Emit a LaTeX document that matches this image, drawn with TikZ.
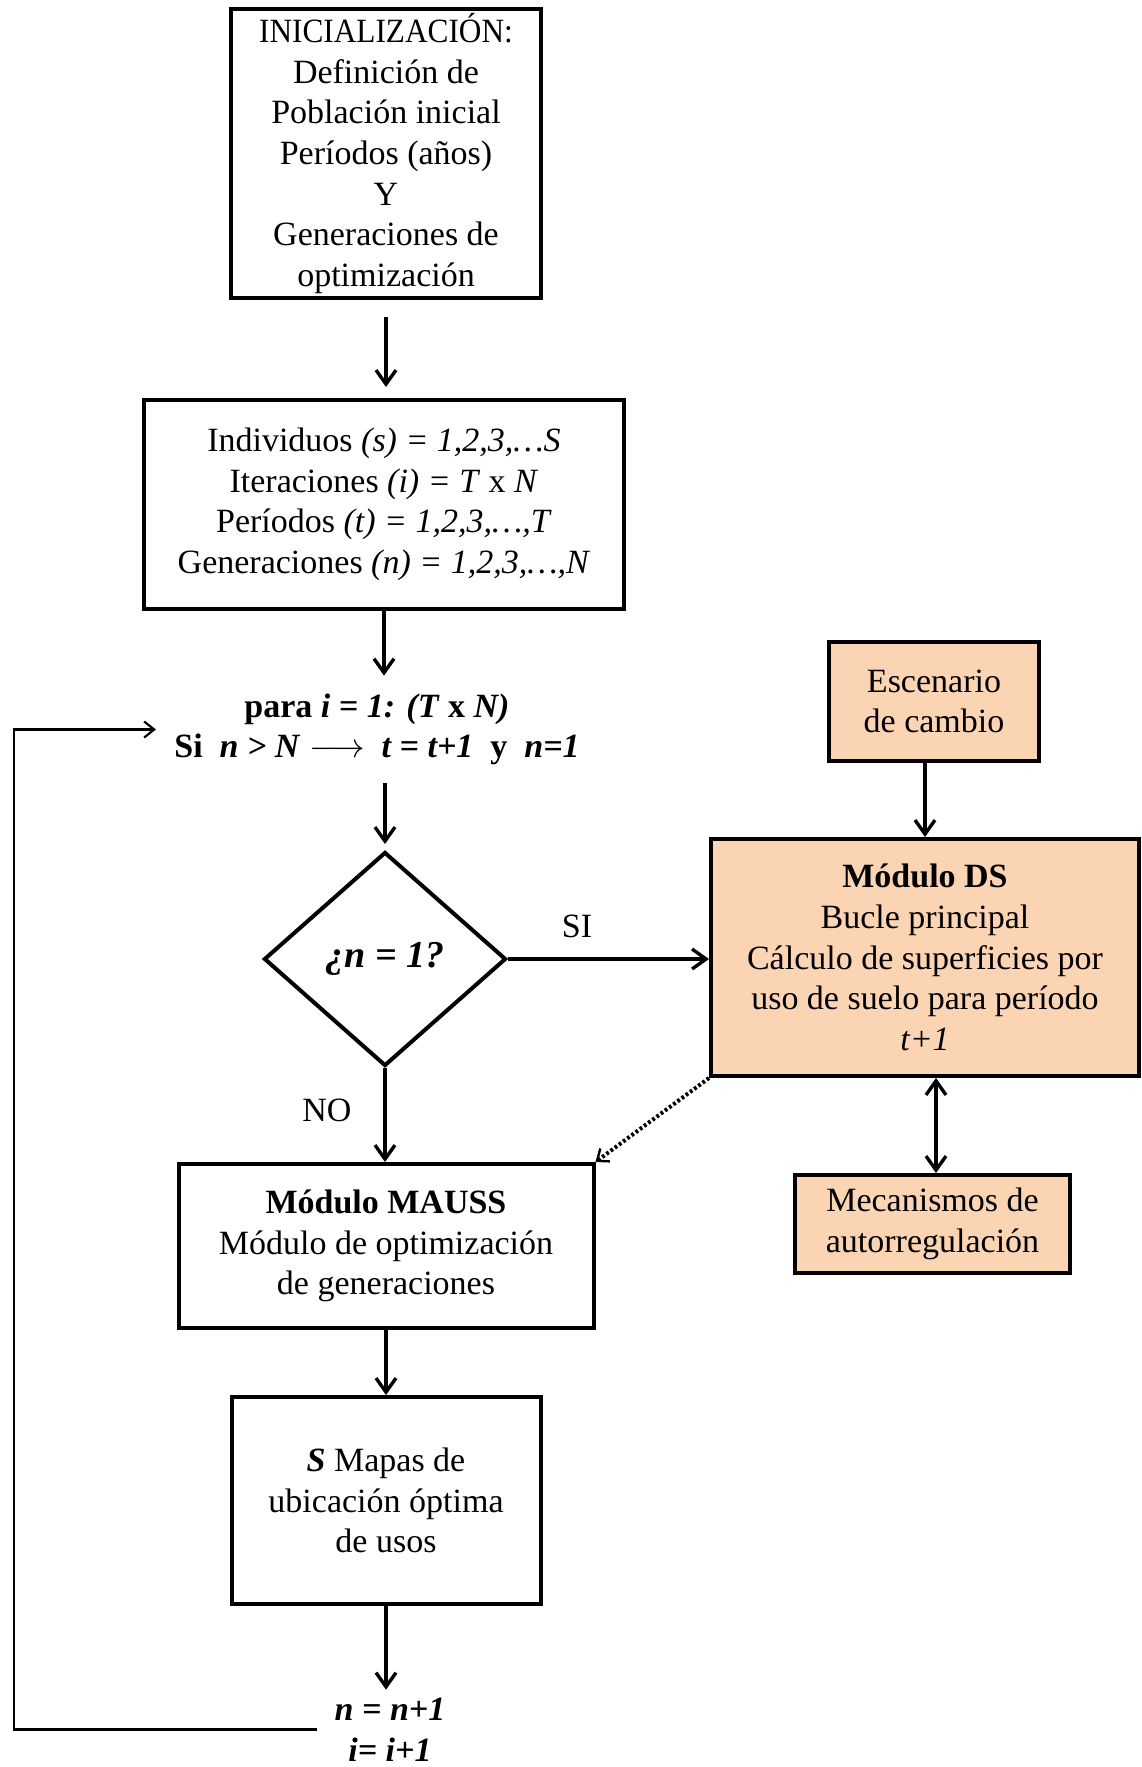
\documentclass[tikz,border=0pt]{standalone}
\usepackage{fontspec}
\setmainfont{Liberation Serif}
\usetikzlibrary{shapes.geometric,arrows.meta}
\definecolor{peach}{HTML}{FBD4B4}
\begin{document}
\begin{tikzpicture}[x=0.5pt,y=-0.5pt,
  every node/.style={font=\fontsize{17}{20.3}\selectfont, align=center},
  box/.style={draw, line width=2pt, inner sep=0pt},
  tint/.style={box, fill=peach},
  flow/.style={line width=1.8pt, -{Straight Barb[length=7pt,width=10pt,line width=1.7pt]}},
  back/.style={line width=1.1pt, -{Straight Barb[length=5pt,width=8pt,line width=1.1pt]}},
  both/.style={line width=1.8pt, {Straight Barb[length=7pt,width=10pt,line width=1.7pt]}-{Straight Barb[length=7pt,width=10pt,line width=1.7pt]}},
  hint/.style={line width=2pt, dash pattern=on 1.4pt off 1.2pt, -{Straight Barb[length=5pt,width=8pt,line width=1.2pt]}}
]
\fill[white] (0,0) rectangle (1141,1767);
\useasboundingbox (0,0) rectangle (1141,1767);

% main column
\node[box, minimum width=155pt, minimum height=144.5pt] (init) at (386,153.5)
  {\scalebox{0.92}[1]{INICIALIZACIÓN:}\\Definición de\\Población inicial\\Períodos (años)\\Y\\Generaciones de\\optimización};
\node[box, minimum width=240pt, minimum height=104.5pt] (vars) at (384,504.5)
  {Individuos \textit{(s) = 1,2,3,…S}\\Iteraciones \textit{(i) = T} x \textit{N}\\Períodos \textit{(t) = 1,2,3,…,T}\\Generaciones \textit{(n) = 1,2,3,…,N}};
\node[inner xsep=9pt, inner ysep=0pt, minimum height=53.5pt] (loop) at (377,729.5)
  {\textbf{para \textit{i = 1: (T} x \textit{N)}}\\\textbf{Si\ \ \textit{n > N}\ $\longrightarrow$\ \ \textit{t = t+1}\ \ y\ \ \textit{n=1}}};
\node[draw, diamond, line width=2pt, minimum width=121pt, minimum height=107pt, inner sep=0pt,
  font=\fontsize{19}{22}\selectfont] (dec) at (385,959)
  {\textbf{\textit{¿n = 1?}}};
\node[box, minimum width=207.5pt, minimum height=82pt] (mauss) at (386,1246)
  {\textbf{Módulo MAUSS}\\Módulo de optimización\\de generaciones};
\node[box, minimum width=154.5pt, minimum height=103.5pt] (maps) at (386,1500.5)
  {\textbf{\textit{S}} Mapas de\\ubicación óptima\\de usos};
\node[inner xsep=8.5pt, inner ysep=0pt, minimum height=39.5pt] (inc) at (390,1729.5)
  {\textbf{\textit{n = n+1}}\\\textbf{\textit{i= i+1}}};

% side column
\node[tint, minimum width=105pt, minimum height=59.5pt] (esc) at (934,701.5)
  {Escenario\\de cambio};
\node[tint, minimum width=214pt, minimum height=118.5pt] (ds) at (925,957.5)
  {\textbf{Módulo DS}\\Bucle principal\\Cálculo de superficies por\\uso de suelo para período\\\textit{t+1}};
\node[tint, minimum width=137.5pt, minimum height=49pt] (mec) at (932.5,1224)
  {Mecanismos de\\autorregulación};

\node (si) at (577,926) {SI};
\node (no) at (327,1110) {NO};
\coordinate (lx) at (14,0);

% connectors
\draw[flow] ([yshift=-8.5pt]init.south) -- ([yshift=5.5pt]init.south |- vars.north);
\draw[flow] (vars.south) -- (vars.south |- loop.north);
\draw[flow] (dec.north |- loop.south) -- ([yshift=3pt]dec.north);
\draw[flow] (dec.east) -- (dec.east -| ds.west);
\draw[flow] (dec.south) -- (dec.south |- mauss.north);
\draw[flow] (esc.south -| ds.north) -- (ds.north);
\draw[hint] (ds.south west) -- (mauss.north east);
\draw[both] ([xshift=5.5pt]ds.south) -- ([xshift=5.5pt]ds.south |- mec.north);
\draw[flow] (mauss.south) -- (mauss.south |- maps.north);
\draw[flow] (maps.south) -- (maps.south |- inc.north);
\draw[back] (inc.west) -- (inc.west -| lx) -- (loop.west -| lx) -- (loop.west);
\end{tikzpicture}
\end{document}
